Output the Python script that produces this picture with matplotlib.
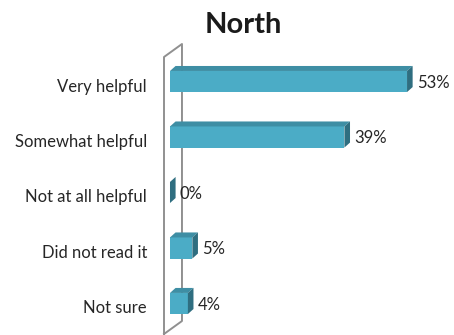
# plot.py
# 3d-look horizontal bar chart, "North" survey results

import matplotlib.pyplot as plt
from matplotlib.patches import Polygon

plt.rcParams['font.family'] = ['Lato', 'DejaVu Sans']

categories = ["Very helpful", "Somewhat helpful", "Not at all helpful",
              "Did not read it", "Not sure"]
values = [53, 39, 0, 5, 4]
value_labels = ["53%", "39%", "0%", "5%", "4%"]

FRONT = "#4bacc6"
TOP = "#3e8ea4"
SIDE = "#2f6e80"
WALL = "#909090"

W, H = 454, 335
fig = plt.figure(figsize=(W / 100, H / 100), dpi=100)
ax = fig.add_axes([164 / W, 1 / H, 290 / W, 290 / H])
ax.set_xlim(-1.34, 63.5)
ax.set_ylim(4.55, -0.676)
ax.axis('off')

bar_h = 0.38
# depth offsets of the bars (data units)
ddx, ddy = 1.25, 0.09
# depth offsets of the side wall
wdx, wdy = 4.02, 0.234

# side wall on the left
x0, x1 = ax.get_xlim()
yb, yt = ax.get_ylim()
xb = x0 + wdx
ax.plot([x0, x0, xb, xb, x0], [yb, yt + wdy, yt, yb - wdy, yb],
        color=WALL, lw=1.4, clip_on=False, zorder=1)

# front faces
ys = list(range(len(categories)))
ax.barh(ys, values, height=bar_h, color=FRONT, zorder=3)

for i, v in zip(ys, values):
    top = i - bar_h / 2
    bot = i + bar_h / 2
    if v > 0:
        ax.add_patch(Polygon([(0, top), (ddx, top - ddy), (v + ddx, top - ddy), (v, top)],
                             closed=True, facecolor=TOP, edgecolor='none', zorder=3))
    ax.add_patch(Polygon([(v, top), (v + ddx, top - ddy), (v + ddx, bot - ddy), (v, bot)],
                         closed=True, facecolor=SIDE, edgecolor='none', zorder=3))

for i, v, lab in zip(ys, values, value_labels):
    ax.annotate(lab, xy=(v + ddx, i), xytext=(3, -1), textcoords='offset points',
                ha='left', va='center', fontsize=12, color='#262626')

for i, cat in zip(ys, categories):
    ax.annotate(cat, xy=(0, i), xycoords=('axes fraction', 'data'),
                xytext=(-12.3, -3.6), textcoords='offset points',
                ha='right', va='center', fontsize=12, color='#262626',
                annotation_clip=False)

fig.text(243 / W, 1 - 33 / H, "North", ha='center', va='baseline',
         fontsize=21, fontweight='bold', color='#1a1a1a')

fig.savefig("out.png", dpi=100)
